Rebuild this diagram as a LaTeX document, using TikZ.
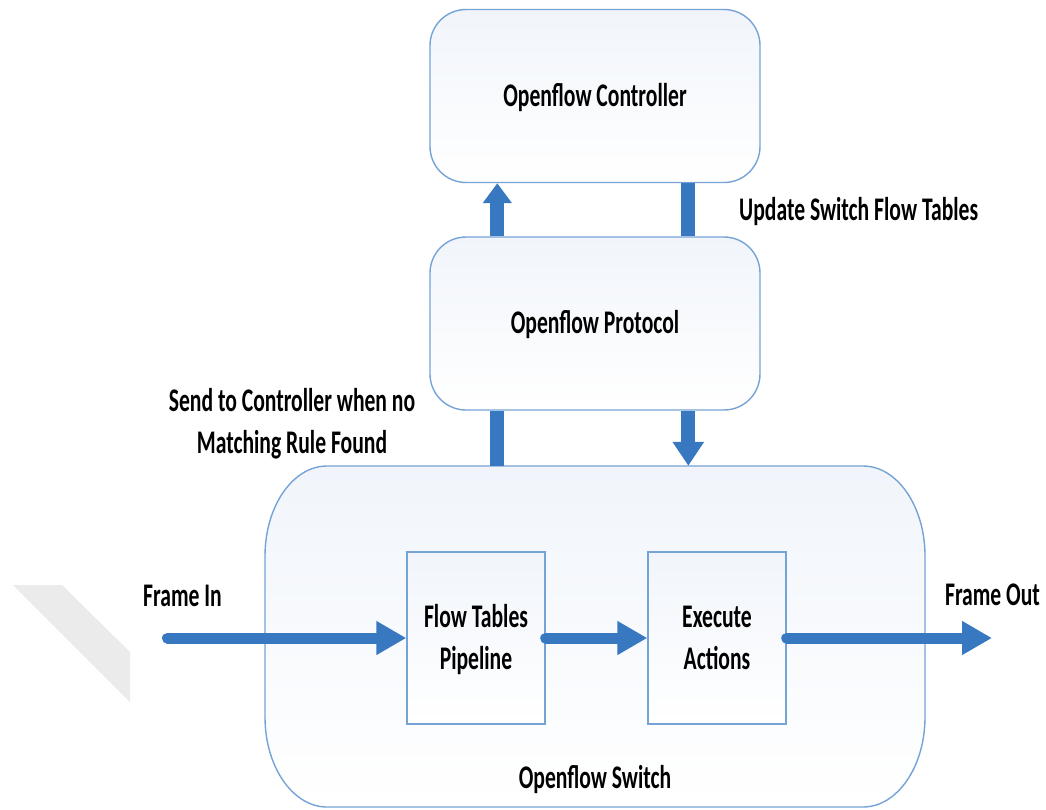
\documentclass[tikz,border=0pt]{standalone}
\usepackage{fontspec}
\setmainfont{Carlito}[FakeStretch=0.655, UprightFont=* Bold]
\usetikzlibrary{arrows.meta}
\definecolor{edge}{HTML}{76A3D6}
\definecolor{flow}{HTML}{3778C0}
\definecolor{tint}{HTML}{F1F5FB}
\definecolor{shadow}{HTML}{EBEBEB}

\begin{document}
\begin{tikzpicture}[x=1pt, y=-1pt,
  lbl/.style={font=\fontsize{33}{42}\selectfont, inner sep=0pt, anchor=base, align=center},
  roundbox/.style={draw=edge, line width=1.4pt, rounded corners=36pt,
    top color=tint, bottom color=white, minimum width=330pt, minimum height=173pt},
  stage/.style={draw=edge, line width=1.4pt, top color=tint, bottom color=white,
    minimum width=138pt, minimum height=172pt},
  bar/.style={draw=flow, line width=14pt},
  upflow/.style={bar, -{Triangle[length=20pt, width=28pt]}},
  downflow/.style={bar, -{Triangle[length=24pt, width=30pt]}},
  hflow/.style={draw=flow, line width=11pt, line cap=round, -{Triangle[length=30pt, width=32pt]}}]

\useasboundingbox (0,0) rectangle (1046,809);

% faint grey band at the left edge
\fill[shadow] (13,585) -- (62,585) -- (130,652) -- (130,702) -- cycle;

% switch outline with elliptic corners
\node[minimum width=660pt, minimum height=341pt, inner sep=0pt] (switch) at (595,636.5) {};
\path[draw=edge, line width=1.4pt, top color=tint, bottom color=white]
  (327,466) -- (863,466) arc[start angle=-90, end angle=0, x radius=62, y radius=90]
  -- (925,717) arc[start angle=0, end angle=90, x radius=62, y radius=90]
  -- (327,807) arc[start angle=90, end angle=180, x radius=62, y radius=90]
  -- (265,556) arc[start angle=180, end angle=270, x radius=62, y radius=90] -- cycle;
\node[lbl] (switchlbl) at (595,788) {Openflow Switch};

% controller and protocol
\node[roundbox] (ctrl) at (595,96) {};
\node[lbl] (ctrllbl) at (595,106) {Openflow Controller};
\node[roundbox] (proto) at (595,323.5) {};
\node[lbl] (protolbl) at (595,333) {Openflow Protocol};

% pipeline stages (base anchor sits on the last line)
\node[stage] (tables) at (476,638) {};
\node[stage] (exec) at (717,638) {};
\node[lbl] (tableslbl) at (476,669) {Flow Tables\\Pipeline};
\node[lbl] (execlbl) at (717,669) {Execute\\Actions};

% vertical links
\draw[upflow] ([xshift=68pt]proto.north west) -- ([xshift=68pt]ctrl.south west);
\draw[bar] ([xshift=259pt]ctrl.south west) -- ([xshift=259pt]proto.north west);
\draw[bar] ([xshift=68pt]proto.south west) -- ([xshift=68pt]proto.south west |- switch.north);
\draw[downflow] ([xshift=259pt]proto.south west) -- ([xshift=259pt]proto.south west |- switch.north);

% frame path
\coordinate (fin) at (167.5,638);
\coordinate (fout) at (992,638);
\draw[hflow] (fin) -- (tables.west);
\draw[hflow] (tables.east) -- (exec.west);
\draw[hflow] (exec.east) -- (fout);

% labels
\node[lbl, anchor=base west] (updlbl) at (739,220) {Update Switch Flow Tables};
\node[lbl] (sendlbl) at (292,453) {Send to Controller when no\\Matching Rule Found};
\node[lbl] (inlbl) at (182.5,606) {Frame In};
\node[lbl] (outlbl) at (992.5,605) {Frame Out};
\end{tikzpicture}
\end{document}
